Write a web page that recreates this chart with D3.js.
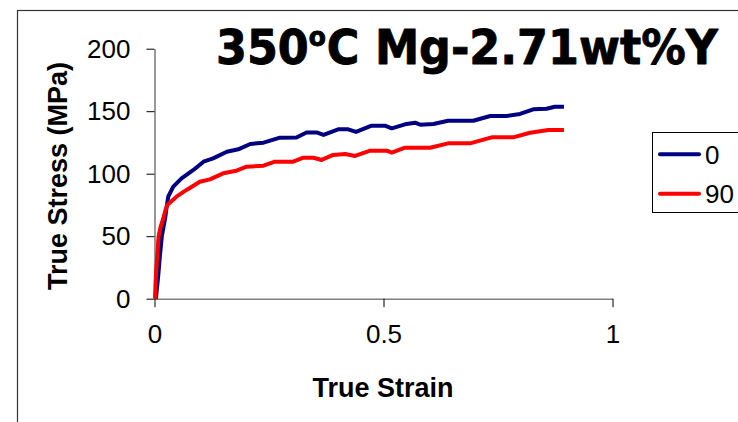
<!DOCTYPE html>
<html>
<head>
<meta charset="utf-8">
<script src="https://cdn.jsdelivr.net/npm/d3@7/dist/d3.min.js"></script>
<style>
  html, body { margin: 0; padding: 0; background: #fff; }
  svg { display: block; }
</style>
</head>
<body>
<svg id="chart" width="738" height="422"></svg>
<script>
// True stress–strain curves, Mg-2.71wt%Y tested at 350°C, two orientations
const seriesNames = ["0", "90"];
const seriesColors = ["#000080", "#ff0000"];

const strain0 = [0.003, 0.008, 0.012, 0.016, 0.020, 0.023, 0.026, 0.030, 0.041, 0.059, 0.085, 0.107, 0.128, 0.158, 0.183, 0.209, 0.238, 0.274, 0.310, 0.332, 0.354, 0.369, 0.401, 0.423, 0.440, 0.474, 0.503, 0.518, 0.547, 0.569, 0.580, 0.609, 0.641, 0.696, 0.733, 0.769, 0.798, 0.827, 0.856, 0.874, 0.894];
const stress0 = [0, 18, 35, 50, 58, 64, 72, 81.6, 89.6, 96.3, 103, 109.6, 112.3, 117.6, 119.5, 123.8, 124.8, 128.8, 129, 133, 133, 131, 135.5, 135.5, 133.4, 138.4, 138.4, 136.3, 139.5, 140.8, 139.2, 139.8, 142.4, 142.4, 146.2, 146.2, 147.8, 151.5, 152, 153.6, 153.6];

const strain90 = [0.001, 0.003, 0.006, 0.009, 0.013, 0.019, 0.024, 0.028, 0.048, 0.070, 0.099, 0.121, 0.150, 0.179, 0.201, 0.238, 0.263, 0.303, 0.325, 0.347, 0.365, 0.390, 0.416, 0.438, 0.471, 0.507, 0.518, 0.547, 0.602, 0.641, 0.689, 0.736, 0.783, 0.820, 0.860, 0.894];
const stress90 = [0, 18, 35, 50, 57, 64, 71, 75, 81.6, 87, 93.6, 95.5, 100.3, 102.4, 105.6, 106.4, 109.6, 109.6, 112.8, 112.8, 111, 115, 115.8, 114.2, 118.4, 118.4, 116.8, 120.8, 120.8, 124.3, 124.3, 129.1, 129.1, 132.8, 135, 135];

const xTicks = [0, 0.5, 1];
const yTicks = [0, 50, 100, 150, 200];

const titleMain = "350";
const titleSup = "o";
const titleRest = "C Mg-2.71wt%Y";
const xTitle = "True Strain";
const yTitle = "True Stress (MPa)";

const svg = d3.select("#chart");

// outer chart frame (continues past the right and bottom edges)
svg.append("rect")
  .attr("x", 17.5).attr("y", 10.5)
  .attr("width", 800).attr("height", 500)
  .attr("fill", "none").attr("stroke", "#333").attr("stroke-width", 1.2);

const x = d3.scaleLinear().domain([0, 1]).range([154.5, 612.5]);
const y = d3.scaleLinear().domain([0, 200]).range([298.7, 48.7]);

const font = "'Liberation Sans', Arial, sans-serif";

// y axis
const yAxis = svg.append("g")
  .attr("transform", `translate(${x(0)},0)`)
  .call(d3.axisLeft(y).tickValues(yTicks).tickSize(8).tickSizeOuter(0).tickPadding(16));
// x axis
const xAxis = svg.append("g")
  .attr("transform", `translate(0,${y(0)})`)
  .call(d3.axisBottom(x).tickValues(xTicks).tickSize(8.5).tickSizeOuter(0).tickPadding(17)
    .tickFormat(d3.format("")));

[yAxis, xAxis].forEach(g => {
  g.select(".domain").attr("stroke", "#808080").attr("stroke-width", 1.6);
  g.selectAll(".tick line").attr("stroke", "#000").attr("stroke-width", 1);
  g.selectAll(".tick text").attr("fill", "#000")
    .style("font-family", font).style("font-size", "26px");
});

// axis titles
svg.append("text")
  .attr("x", 383).attr("y", 397)
  .attr("text-anchor", "middle")
  .style("font-family", font).style("font-size", "27px").style("font-weight", "bold")
  .text(xTitle);

svg.append("text")
  .attr("transform", "translate(67,176) rotate(-90)")
  .attr("text-anchor", "middle")
  .style("font-family", font).style("font-size", "27px").style("font-weight", "bold")
  .text(yTitle);

// curves
const line = d3.line().x(d => x(d[0])).y(d => y(d[1]));
const series = [
  { name: seriesNames[0], color: seriesColors[0], pts: d3.zip(strain0, stress0) },
  { name: seriesNames[1], color: seriesColors[1], pts: d3.zip(strain90, stress90) }
];

svg.append("g").selectAll("path")
  .data(series)
  .join("path")
  .attr("d", d => line(d.pts))
  .attr("fill", "none")
  .attr("stroke", d => d.color)
  .attr("stroke-width", 4)
  .attr("stroke-linejoin", "round")
  .attr("stroke-linecap", "butt");

// title: three pieces laid out side by side, then narrowed to the target width
const titleFont = "'DejaVu Sans', Verdana, sans-serif";
const titleG = svg.append("g");
const parts = [
  { t: titleMain, size: 48, dy: 0 },
  { t: titleSup, size: 27, dy: -18.6 },
  { t: titleRest, size: 48, dy: 0 }
];
let cursor = 0;
parts.forEach(p => {
  const node = titleG.append("text")
    .attr("x", cursor).attr("y", p.dy)
    .style("font-family", titleFont)
    .style("font-size", p.size + "px").style("font-weight", "bold")
    .attr("fill", "#000")
    .attr("stroke", "#000").attr("stroke-width", 0.9).attr("stroke-linejoin", "round")
    .text(p.t);
  cursor += node.node().getComputedTextLength() + (p.t === titleSup ? 1 : 0);
});
const titleScale = 502 / cursor;
titleG.attr("transform", `translate(216,64.3) scale(${titleScale},1)`);

// legend
const legend = svg.append("g");
legend.append("rect")
  .attr("x", 652.5).attr("y", 132.5)
  .attr("width", 120).attr("height", 80)
  .attr("fill", "#fff").attr("stroke", "#000").attr("stroke-width", 1);

const rows = legend.selectAll("g.row")
  .data(series)
  .join("g")
  .attr("class", "row")
  .attr("transform", (d, i) => `translate(0,${154.3 + i * 39.4})`);
rows.append("line")
  .attr("x1", 660).attr("x2", 699)
  .attr("stroke", d => d.color).attr("stroke-width", 4).attr("stroke-linecap", "round");
rows.append("text")
  .attr("x", 705).attr("y", 9.5)
  .style("font-family", font).style("font-size", "26px")
  .text(d => d.name);
</script>
</body>
</html>
